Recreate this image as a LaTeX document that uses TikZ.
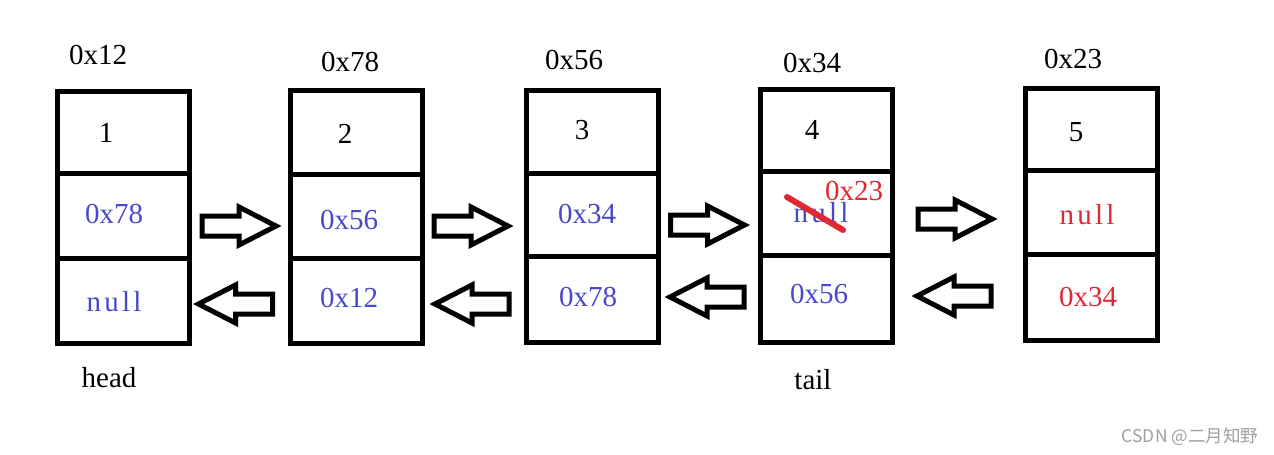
\documentclass[tikz,border=0pt]{standalone}
\usepackage{fontspec}
\setmainfont{Liberation Serif}
\newfontfamily\cjkfont{Noto Sans CJK SC}
\definecolor{tblue}{RGB}{72,72,204}
\definecolor{tred}{RGB}{224,40,50}
\definecolor{wgray}{RGB}{160,160,160}
\begin{document}
\begin{tikzpicture}[x=1pt,y=-1pt,
  cell/.style={draw,line width=5pt,inner sep=0pt,minimum width=132pt},
  txt/.style={inner sep=0pt,font=\fontsize{29}{29}\selectfont},
  bl/.style={txt,text=tblue},
  rd/.style={txt,text=tred},
  wide/.style={font=\fontsize{29}{29}\selectfont\addfontfeature{LetterSpace=11}},
  rarr/.pic={\draw[line width=5pt] (-37,-10) -- (0,-10) -- (0,-19) -- (37,0) -- (0,19) -- (0,10) -- (-37,10) -- cycle;},
  larr/.pic={\draw[line width=5pt] (37,-10) -- (0,-10) -- (0,-19) -- (-37,0) -- (0,19) -- (0,10) -- (37,10) -- cycle;}
]
\useasboundingbox[fill=white] (0,0) rectangle (1274,455);

% box 1
\node[cell,minimum height=82pt] (a1) at (123,132) {};
\node[cell,minimum height=85pt] (b1) at (123,215.5) {};
\node[cell,minimum height=85pt] (c1) at (123,300.5) {};
% box 2
\node[cell,minimum height=84pt] (a2) at (356,132) {};
\node[cell,minimum height=84pt] (b2) at (356,216) {};
\node[cell,minimum height=85pt] (c2) at (356,300.5) {};
% box 3
\node[cell,minimum height=83pt] (a3) at (592,131.5) {};
\node[cell,minimum height=83pt] (b3) at (592,214.5) {};
\node[cell,minimum height=86pt] (c3) at (592,299) {};
% box 4
\node[cell,minimum height=82pt] (a4) at (826,130) {};
\node[cell,minimum height=84pt] (b4) at (826,213) {};
\node[cell,minimum height=87pt] (c4) at (826,298.5) {};
% box 5
\node[cell,minimum height=82pt] (a5) at (1091,129) {};
\node[cell,minimum height=84pt] (b5) at (1091,212) {};
\node[cell,minimum height=86pt] (c5) at (1091,297) {};

% addresses
\node[txt] (ad1) at (98,55) {0x12};
\node[txt] (ad2) at (350,62) {0x78};
\node[txt] (ad3) at (574,60) {0x56};
\node[txt] (ad4) at (812,63) {0x34};
\node[txt] (ad5) at (1073,59) {0x23};

% values
\node[txt] (v1) at (106,133) {1};
\node[txt] (v2) at (345,134) {2};
\node[txt] (v3) at (582,130) {3};
\node[txt] (v4) at (812,130) {4};
\node[txt] (v5) at (1076,132) {5};

% next pointers
\node[bl] (n1) at (114,214) {0x78};
\node[bl] (n2) at (349,220) {0x56};
\node[bl] (n3) at (587,214) {0x34};
\node[bl,wide] (n4) at (821,213) {null};
\node[rd] (n4b) at (854,191) {0x23};
\node[rd,wide] (n5) at (1087,215) {null};
\draw[tred,line width=6pt,line cap=round] (787,197) -- (843,230);

% prev pointers
\node[bl,wide] (p1) at (114,302) {null};
\node[bl] (p2) at (349,298) {0x12};
\node[bl] (p3) at (588,297) {0x78};
\node[bl] (p4) at (819,294) {0x56};
\node[rd] (p5) at (1088,297) {0x34};

% labels
\node[txt] (head) at (109,378) {head};
\node[txt] (tail) at (813,380) {tail};

% arrows
\pic at (239,226) {rarr};
\pic at (471,226) {rarr};
\pic at (707.5,225) {rarr};
\pic at (955,219) {rarr};
\pic at (235.5,304) {larr};
\pic at (472,304) {larr};
\pic at (707,297) {larr};
\pic at (954,296) {larr};

% watermark
\node[inner sep=0pt,text=wgray,font=\cjkfont\fontsize{17.5}{17.5}\selectfont] (wm) at (1190,437) {CSDN @二月知野};
\end{tikzpicture}
\end{document}
